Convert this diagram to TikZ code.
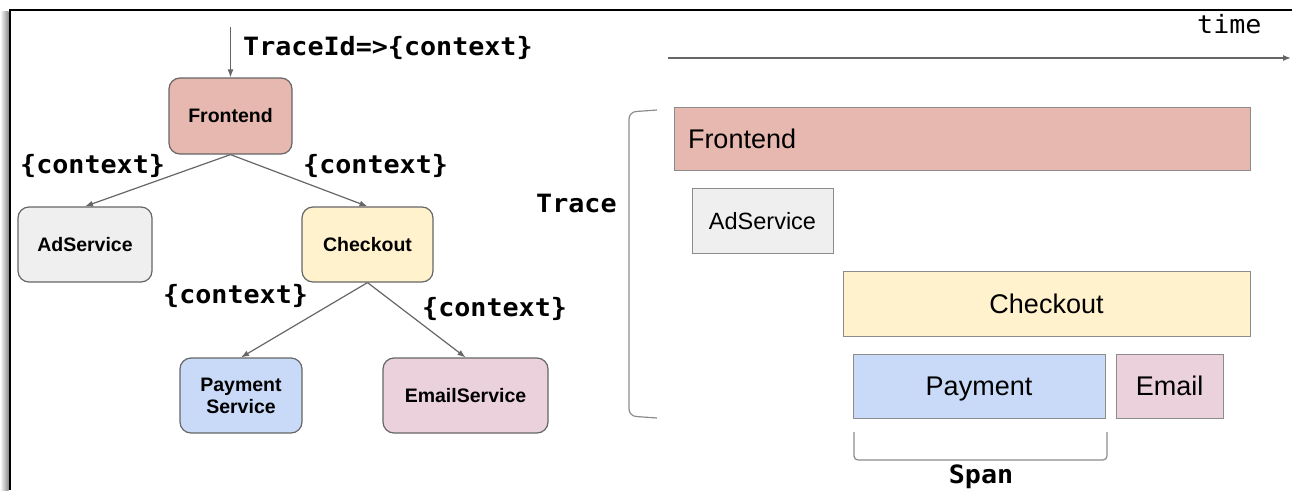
\documentclass[tikz,border=0pt]{standalone}
\usepackage{fontspec}
\setmainfont{Liberation Sans}
\newfontfamily\codefont[FakeStretch=1.06]{DejaVu Sans Mono}
\usetikzlibrary{arrows.meta}

\definecolor{frontfill}{HTML}{E6B8AF}
\definecolor{adfill}{HTML}{EFEFEF}
\definecolor{checkfill}{HTML}{FFF2CC}
\definecolor{payfill}{HTML}{C9DAF8}
\definecolor{mailfill}{HTML}{EAD1DC}
\definecolor{edgegray}{HTML}{666666}
\definecolor{bargray}{HTML}{8C8C8C}

\tikzset{
  svc/.style={draw=edgegray, line width=1.2pt, rounded corners=11pt,
    inner sep=0pt, align=center,
    font=\fontsize{19.5}{22}\selectfont\bfseries},
  bar/.style={draw=bargray, line width=1pt, inner sep=0pt,
    text height=19.5pt, text depth=0pt,
    font=\fontsize{27}{30}\selectfont},
  flow/.style={draw=edgegray, line width=1.2pt,
    -{Latex[length=8pt,width=6pt]}},
  code/.style={inner sep=0pt, anchor=base west,
    font=\fontsize{25.2}{28}\selectfont\codefont\bfseries},
  brace/.style={draw=bargray, line width=1.2pt},
}

\begin{document}
\begin{tikzpicture}[x=1pt,y=-1pt]
\useasboundingbox (0,0) rectangle (1292,490);

% window frame with its left shadow
\shade[left color=white, right color=black!45] (0,11) rectangle (8.5,490);
\draw[line width=2.5pt] (9.8,490) -- (9.8,10) -- (1292,10);

% ---- call tree ----
\node[svc, fill=frontfill, minimum width=123pt, minimum height=76pt] (fe) at (230.5,116) {Frontend};
\node[svc, fill=adfill, minimum width=134pt, minimum height=75pt] (ad) at (85,244.5) {AdService};
\node[svc, fill=checkfill, minimum width=131pt, minimum height=75pt] (co) at (367.5,244.5) {Checkout};
\node[svc, fill=payfill, minimum width=122pt, minimum height=75pt] (pay) at (241,395.5) {Payment\\Service};
\node[svc, fill=mailfill, minimum width=165pt, minimum height=75pt] (em) at (465.5,395.5) {EmailService};

\coordinate (req) at (230.5,27);
\draw[flow] (req) -- (fe.north);
\draw[flow] (fe.south) -- (ad.north);
\draw[flow] (fe.south) -- (co.north);
\draw[flow] (co.south) -- (pay.north);
\draw[flow] (co.south) -- (em.north);

\node[code] (tid) at (243,55) {TraceId=>\{context\}};
\node[code] (c1) at (20,173) {\{context\}};
\node[code] (c2) at (303,173) {\{context\}};
\node[code] (c3) at (163,303) {\{context\}};
\node[code] (c4) at (422,316) {\{context\}};

% ---- timeline ----
\node[code, font=\fontsize{25.2}{28}\selectfont\codefont] (time) at (1197,33) {time};
\coordinate (t0) at (668,58);
\coordinate (t1) at (1291,58);
\draw[flow] (t0) -- (t1);

\node[bar, fill=frontfill, minimum width=576pt, minimum height=63pt,
      text width=548pt, inner xsep=14pt, align=left] (fbar) at (962,138.5) {Frontend};
\node[bar, fill=adfill, minimum width=141pt, minimum height=65pt,
      text height=17pt, font=\fontsize{23.5}{26}\selectfont] (abar) at (762.5,220.5) {AdService};
\node[bar, fill=checkfill, minimum width=407pt, minimum height=65pt] (cbar) at (1046.5,303.5) {Checkout};
\node[bar, fill=payfill, minimum width=252pt, minimum height=64pt] (pbar) at (979,386) {Payment};
\node[bar, fill=mailfill, minimum width=107pt, minimum height=64pt] (ebar) at (1169.5,386) {Email};

% bracket grouping the whole trace
\draw[brace, rounded corners=7pt] (657,110) -- (629,112) -- (629,416) -- (657,418);
\node[code] (trace) at (536,212) {Trace};

% bracket marking one span
\draw[brace, rounded corners=4pt] (854,432) -- (854,460) -- (1107,460) -- (1107,432);
\node[code, anchor=base] (span) at (981,483) {Span};
\end{tikzpicture}
\end{document}
